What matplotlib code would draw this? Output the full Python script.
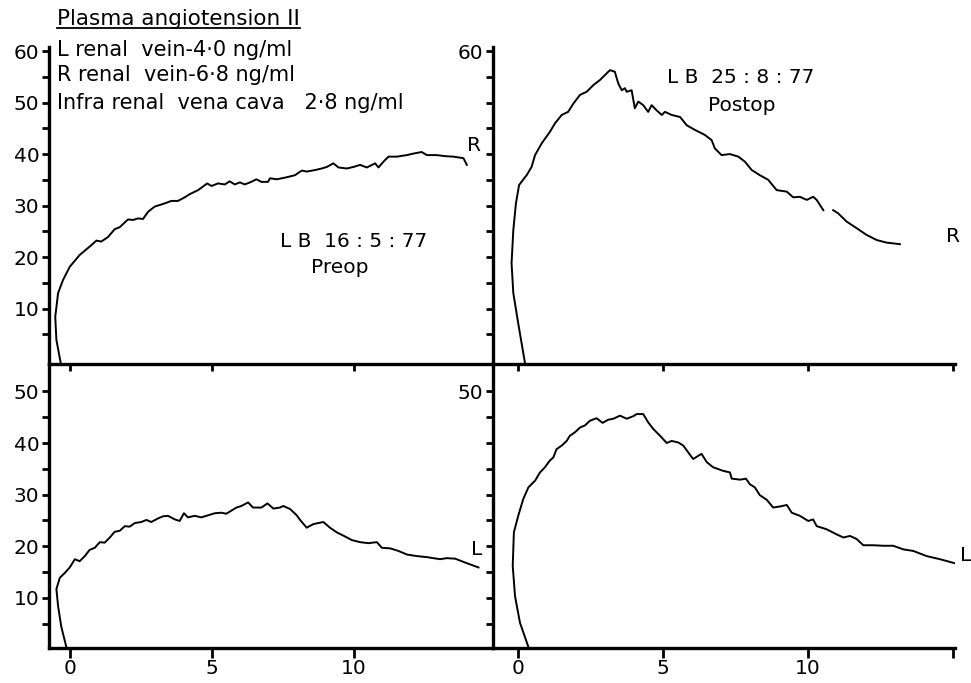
import numpy as np
import matplotlib.pyplot as plt

# preop, right renal vein (top left)
pre_r_x = [-0.33, -0.48, -0.52, -0.42, -0.25, -0.01, 0.34, 0.75, 0.93, 1.10, 1.34, 1.57, 1.75, 2.04, 2.22,
           2.39, 2.57, 2.75, 2.98, 3.27, 3.57, 3.80, 4.04, 4.21, 4.51, 4.83, 4.98, 5.21, 5.45, 5.62, 5.80,
           5.98, 6.15, 6.38, 6.56, 6.74, 6.97, 7.04, 7.28, 7.63, 7.92, 8.16, 8.33, 8.63, 8.86, 9.04, 9.27,
           9.45, 9.74, 9.98, 10.21, 10.45, 10.74, 10.86, 11.03, 11.21, 11.50, 11.86, 12.09, 12.38, 12.56,
           12.91, 13.20, 13.50, 13.85, 13.97]
pre_r_y = [-0.5, 3.9, 8.4, 13.0, 15.5, 18.1, 20.4, 22.3, 23.2, 23.0, 23.9, 25.4, 25.8, 27.3, 27.2,
           27.5, 27.4, 28.8, 29.8, 30.3, 30.9, 30.9, 31.6, 32.2, 33.0, 34.3, 33.8, 34.3, 34.1, 34.7, 34.1,
           34.5, 34.1, 34.6, 35.1, 34.6, 34.6, 35.3, 35.1, 35.5, 35.9, 36.8, 36.6, 36.9, 37.2, 37.5, 38.2,
           37.4, 37.2, 37.5, 37.9, 37.4, 38.2, 37.4, 38.5, 39.5, 39.5, 39.8, 40.1, 40.4, 39.8,
           39.8, 39.6, 39.5, 39.2, 37.9]

# postop, right renal vein (top right)
post_r_x = [0.24, 0.01, -0.16, -0.22, -0.16, -0.07, 0.04, 0.30, 0.47, 0.59, 0.82, 1.10, 1.28, 1.51, 1.73,
            1.91, 2.14, 2.37, 2.60, 2.83, 3.17, 3.34, 3.46, 3.58, 3.69, 3.75, 3.92, 4.03, 4.15, 4.32, 4.49,
            4.61, 4.78, 4.96, 5.07, 5.30, 5.59, 5.82, 6.10, 6.45, 6.68, 6.79, 7.02, 7.31, 7.60, 7.83, 8.06,
            8.34, 8.63, 8.92, 9.27, 9.49, 9.72, 9.96, 10.18, 10.30, 10.53, 10.70, 10.87, 11.04, 11.33,
            11.68, 12.02, 12.37, 12.71, 13.17]
post_r_y = [-0.5, 7.1, 13.0, 18.8, 25.2, 30.4, 34.0, 35.9, 37.5, 39.8, 42.1, 44.3, 46.0, 47.6, 48.2,
            49.8, 51.5, 52.1, 53.4, 54.4, 56.3, 56.0, 53.7, 52.4, 52.8, 52.1, 52.4, 48.9, 50.2, 49.5, 48.2,
            49.5, 48.5, 47.6, 48.2, 47.6, 47.2, 45.6, 44.7, 43.7, 42.7, 41.1, 39.8, 40.0, 39.5, 38.5, 36.9,
            35.9, 35.0, 33.0, 32.7, 31.6, 31.7, 31.1, 31.7, 31.1, 29.1, np.nan, 29.1, 28.5, 26.9,
            25.6, 24.3, 23.3, 22.8, 22.5]

# preop, left renal vein (bottom left)
pre_l_x = [-0.13, -0.31, -0.42, -0.48, -0.36, -0.19, -0.01, 0.17, 0.34, 0.52, 0.69, 0.87, 1.05, 1.22, 1.40,
           1.57, 1.75, 1.93, 2.10, 2.28, 2.51, 2.69, 2.86, 3.10, 3.27, 3.45, 3.69, 3.86, 4.01, 4.15, 4.39,
           4.62, 4.86, 5.10, 5.33, 5.50, 5.68, 5.86, 6.03, 6.27, 6.44, 6.74, 6.95, 7.16, 7.39, 7.51, 7.75,
           7.98, 8.10, 8.33, 8.57, 8.74, 8.92, 9.15, 9.39, 9.68, 9.92, 10.21, 10.50, 10.80, 10.98, 11.27,
           11.56, 11.86, 12.21, 12.56, 12.79, 13.03, 13.26, 13.56, 13.79, 14.08, 14.38]
pre_l_y = [0.5, 4.5, 8.4, 11.7, 13.9, 14.8, 15.9, 17.5, 17.1, 18.1, 19.3, 19.7, 20.8, 20.7, 21.7,
           22.8, 23.0, 23.9, 23.8, 24.5, 24.7, 25.1, 24.7, 25.4, 25.8, 25.9, 25.2, 24.9, 26.4, 25.6, 25.9,
           25.6, 26.0, 26.4, 26.5, 26.3, 26.9, 27.5, 27.8, 28.5, 27.5, 27.5, 28.3, 27.3, 27.5, 27.8, 27.2,
           26.0, 25.1, 23.6, 24.3, 24.5, 24.7, 23.6, 22.7, 21.9, 21.2, 20.8, 20.6, 20.8, 19.7, 19.6,
           19.1, 18.4, 18.1, 17.9, 17.7, 17.5, 17.7, 17.6, 17.1, 16.5, 15.9]

# postop, left renal vein (bottom right)
post_l_x = [0.36, 0.07, -0.10, -0.18, -0.14, 0.01, 0.18, 0.36, 0.59, 0.76, 0.93, 1.10, 1.22, 1.33, 1.51,
            1.68, 1.79, 1.97, 2.14, 2.31, 2.48, 2.71, 2.92, 3.11, 3.29, 3.52, 3.75, 3.98, 4.09, 4.32, 4.49,
            4.67, 4.90, 5.13, 5.30, 5.53, 5.70, 5.87, 6.04, 6.33, 6.51, 6.73, 7.08, 7.31, 7.37, 7.66, 7.86,
            8.00, 8.17, 8.34, 8.58, 8.80, 9.03, 9.27, 9.44, 9.72, 10.01, 10.18, 10.30, 10.64, 10.99, 11.22,
            11.45, 11.68, 11.91, 12.25, 12.60, 12.94, 13.29, 13.63, 14.09, 14.55, 15.07]
post_l_y = [0.5, 5.2, 10.3, 16.2, 22.7, 25.9, 29.1, 31.4, 32.7, 34.3, 35.3, 36.6, 37.2, 38.8, 39.5,
            40.4, 41.4, 42.1, 43.0, 43.4, 44.3, 44.8, 43.9, 44.5, 44.7, 45.3, 44.7, 45.2, 45.6, 45.6, 44.0,
            42.7, 41.4, 40.0, 40.4, 40.1, 39.5, 38.2, 36.9, 37.9, 36.3, 35.3, 34.6, 34.3, 33.1, 32.9, 33.1,
            32.0, 31.4, 29.9, 29.0, 27.5, 27.7, 28.0, 26.5, 25.9, 24.9, 25.2, 23.9, 23.3, 22.3, 21.7,
            22.0, 21.4, 20.2, 20.2, 20.1, 20.1, 19.4, 19.1, 18.1, 17.5, 16.7]

header = ["L renal  vein-4·0 ng/ml", "R renal  vein-6·8 ng/ml", "Infra renal  vena cava   2·8 ng/ml"]

W, H = 971, 683
fig = plt.figure(figsize=(W / 100, H / 100), dpi=100)


def box(x0, y0, x1, y1):
    # pixel box (top-left origin) -> figure fraction
    return [x0 / W, 1 - y1 / H, (x1 - x0) / W, (y1 - y0) / H]


ax_tl = fig.add_axes(box(49, 47, 493, 364))
ax_tr = fig.add_axes(box(493, 47, 955, 364))
ax_bl = fig.add_axes(box(49, 364, 493, 648))
ax_br = fig.add_axes(box(493, 364, 955, 648))

ax_tl.set_xlim(-0.74, 14.89)
ax_bl.set_xlim(-0.74, 14.89)
ax_tr.set_xlim(-0.86, 15.07)
ax_br.set_xlim(-0.86, 15.07)
for a in (ax_tl, ax_tr):
    a.set_ylim(-0.78, 60.8)
for a in (ax_bl, ax_br):
    a.set_ylim(0.3, 55.3)

for a in (ax_tl, ax_tr, ax_bl, ax_br):
    a.patch.set_alpha(0)
    a.spines['top'].set_visible(False)
    a.spines['right'].set_visible(False)
    a.spines['left'].set_linewidth(2.4)
    a.spines['bottom'].set_linewidth(2.4)
    a.tick_params(direction='out', length=5, width=2, labelsize=14.5, pad=2)

ax_tl.set_yticks(range(5, 61, 5))
ax_tl.set_yticklabels([str(v) if v % 10 == 0 else '' for v in range(5, 61, 5)])
ax_tr.set_yticks(range(5, 61, 5))
ax_tr.set_yticklabels(['' if v != 60 else '60' for v in range(5, 61, 5)])
ax_bl.set_yticks(range(5, 51, 5))
ax_bl.set_yticklabels([str(v) if v % 10 == 0 else '' for v in range(5, 51, 5)])
ax_br.set_yticks(range(5, 51, 5))
ax_br.set_yticklabels(['' if v != 50 else '50' for v in range(5, 51, 5)])

for a in (ax_tl, ax_bl):
    a.set_xticks([0, 5, 10])
for a in (ax_tr, ax_br):
    a.set_xticks([0, 5, 10, 15])
ax_tl.set_xticklabels([])
ax_tr.set_xticklabels([])
ax_bl.set_xticklabels(['0', '5', '10'])
ax_br.set_xticklabels(['0', '5', '10', ''])
for a in (ax_bl, ax_br):
    a.tick_params(axis='x', length=7, pad=1)

lw = 1.4
ax_tl.plot(pre_r_x, pre_r_y, color='black', lw=lw)
ax_tr.plot(post_r_x, post_r_y, color='black', lw=lw)
ax_bl.plot(pre_l_x, pre_l_y, color='black', lw=lw)
ax_br.plot(post_l_x, post_l_y, color='black', lw=lw)

# header text
fs = 15
t = ax_tl.text(-0.45, 66.2, "Plasma angiotension II", fontsize=15.5, ha='left', va='center', clip_on=False)
for i, line in enumerate(header):
    ax_tl.text(-0.45, [60.2, 55.3, 49.9][i], line, fontsize=fs, ha='left', va='center')

ax_tl.text(10.0, 23.1, "L B  16 : 5 : 77", fontsize=14.5, ha='center', va='center')
ax_tl.text(9.5, 17.9, "Preop", fontsize=14.5, ha='center', va='center')
ax_tr.text(7.69, 54.8, "L B  25 : 8 : 77", fontsize=14.5, ha='center', va='center')
ax_tr.text(7.72, 49.5, "Postop", fontsize=14.5, ha='center', va='center')

ax_tl.text(14.23, 41.7, "R", fontsize=14.5, ha='center', va='center', clip_on=False)
ax_tr.text(15.0, 23.9, "R", fontsize=14.5, ha='center', va='center', clip_on=False)
ax_bl.text(14.33, 19.4, "L", fontsize=14.5, ha='center', va='center', clip_on=False)
ax_br.text(15.45, 18.3, "L", fontsize=14.5, ha='center', va='center', clip_on=False)

# underline the title
fig.canvas.draw()
bb = t.get_window_extent().transformed(fig.transFigure.inverted())
fig.add_artist(plt.Line2D([bb.x0, bb.x1], [bb.y0 + 0.002, bb.y0 + 0.002], color='black', lw=1.3))

fig.savefig('out.png', dpi=100)
